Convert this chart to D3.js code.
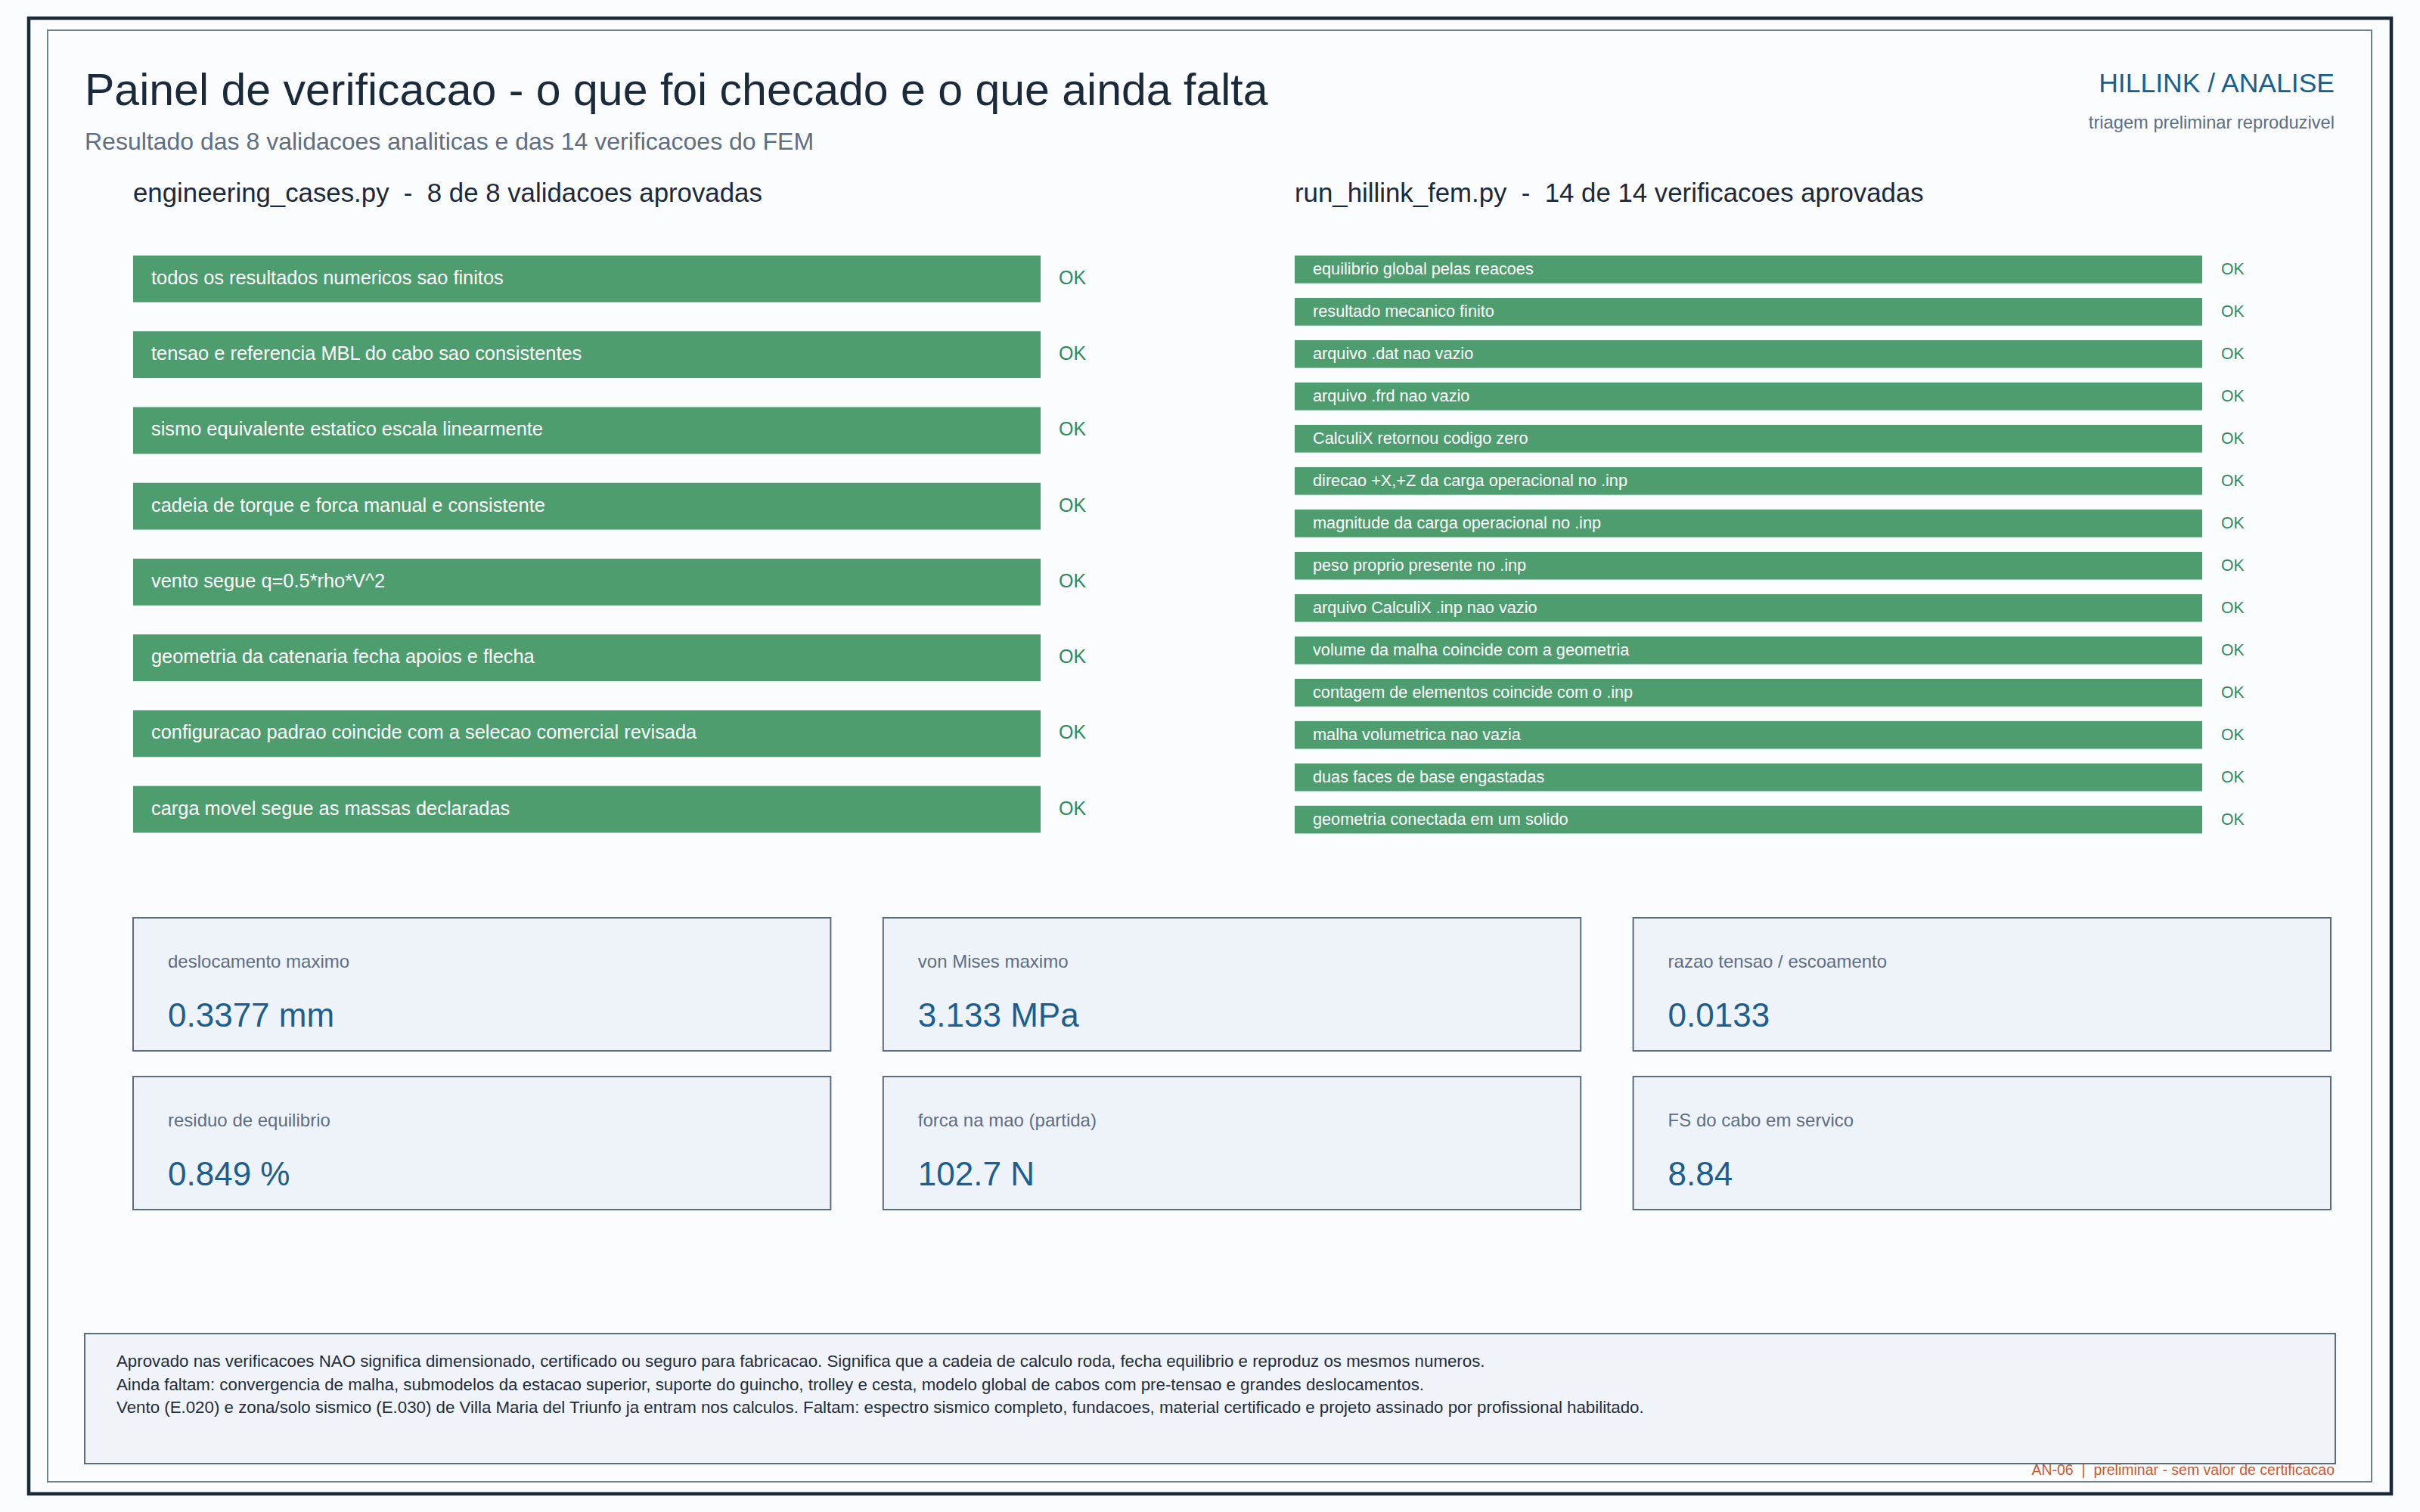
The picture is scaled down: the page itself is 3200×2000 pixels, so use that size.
<!DOCTYPE html>
<html>
<head>
<meta charset="utf-8">
<script src="https://cdn.jsdelivr.net/npm/d3@7"></script>
<style>
  html, body { margin: 0; padding: 0; background: #fbfcfe; }
  svg { display: block; font-family: "Liberation Sans", Arial, Helvetica, sans-serif; }
  .pre { white-space: pre; }
</style>
</head>
<body>
<svg id="chart" width="3200" height="2000"></svg>
<script>
// ---------- data ----------
const titleText = "Painel de verificacao - o que foi checado e o que ainda falta";
const subtitleText = "Resultado das 8 validacoes analiticas e das 14 verificacoes do FEM";
const brandText = "HILLINK / ANALISE";
const brandSub = "triagem preliminar reproduzivel";

const leftHeader = "engineering_cases.py  -  8 de 8 validacoes aprovadas";
const leftChecks = [
  "todos os resultados numericos sao finitos",
  "tensao e referencia MBL do cabo sao consistentes",
  "sismo equivalente estatico escala linearmente",
  "cadeia de torque e forca manual e consistente",
  "vento segue q=0.5*rho*V^2",
  "geometria da catenaria fecha apoios e flecha",
  "configuracao padrao coincide com a selecao comercial revisada",
  "carga movel segue as massas declaradas"
];
const leftPassed = [1, 1, 1, 1, 1, 1, 1, 1];

const rightHeader = "run_hillink_fem.py  -  14 de 14 verificacoes aprovadas";
const rightChecks = [
  "equilibrio global pelas reacoes",
  "resultado mecanico finito",
  "arquivo .dat nao vazio",
  "arquivo .frd nao vazio",
  "CalculiX retornou codigo zero",
  "direcao +X,+Z da carga operacional no .inp",
  "magnitude da carga operacional no .inp",
  "peso proprio presente no .inp",
  "arquivo CalculiX .inp nao vazio",
  "volume da malha coincide com a geometria",
  "contagem de elementos coincide com o .inp",
  "malha volumetrica nao vazia",
  "duas faces de base engastadas",
  "geometria conectada em um solido"
];
const rightPassed = [1, 1, 1, 1, 1, 1, 1, 1, 1, 1, 1, 1, 1, 1];
const statusLabel = "OK";

const cardLabels = [
  "deslocamento maximo", "von Mises maximo", "razao tensao / escoamento",
  "residuo de equilibrio", "forca na mao (partida)", "FS do cabo em servico"
];
const cardValues = [0.3377, 3.133, 0.0133, 0.849, 102.7, 8.84];
const cardUnits = ["mm", "MPa", "", "%", "N", ""];

const footerLines = [
  "Aprovado nas verificacoes NAO significa dimensionado, certificado ou seguro para fabricacao. Significa que a cadeia de calculo roda, fecha equilibrio e reproduz os mesmos numeros.",
  "Ainda faltam: convergencia de malha, submodelos da estacao superior, suporte do guincho, trolley e cesta, modelo global de cabos com pre-tensao e grandes deslocamentos.",
  "Vento (E.020) e zona/solo sismico (E.030) de Villa Maria del Triunfo ja entram nos calculos. Faltam: espectro sismico completo, fundacoes, material certificado e projeto assinado por profissional habilitado."
];
const footNote = "AN-06  |  preliminar - sem valor de certificacao";

// ---------- drawing ----------
const svg = d3.select("#chart");
const C = {
  ink: "#1b2a3b", slate: "#5e6e84", blue: "#1a5f8f", green: "#4e9d6f",
  okGreen: "#2e8b57", frame: "#1b2a3a", inner: "#6f8090", cardFill: "#eef3f9",
  cardStroke: "#5b6b80", footFill: "#f0f3f7", orange: "#c95a30"
};

svg.append("rect").attr("width", 3200).attr("height", 2000).attr("fill", "#fbfcfe");
svg.append("rect").attr("x", 38).attr("y", 24).attr("width", 3124).attr("height", 1952)
  .attr("fill", "none").attr("stroke", C.frame).attr("stroke-width", 4.5);
svg.append("rect").attr("x", 63).attr("y", 40).attr("width", 3073).attr("height", 1920)
  .attr("fill", "none").attr("stroke", C.inner).attr("stroke-width", 2);

// titles
svg.append("text").attr("x", 112).attr("y", 139).attr("font-size", 59).attr("fill", C.ink).text(titleText);
svg.append("text").attr("x", 112).attr("y", 198).attr("font-size", 32).attr("fill", C.slate).text(subtitleText);
svg.append("text").attr("x", 3087).attr("y", 122).attr("font-size", 35.5).attr("fill", C.blue)
  .attr("text-anchor", "end").text(brandText);
svg.append("text").attr("x", 3087).attr("y", 170).attr("font-size", 23.7).attr("fill", C.slate)
  .attr("text-anchor", "end").text(brandSub);

function checkPanel(opts) {
  const g = svg.append("g");
  const idx = d3.range(opts.checks.length);
  const x = d3.scaleLinear().domain([0, 1]).range([opts.x0, opts.x1]);
  const y = d3.scaleBand().domain(idx).range([opts.y0, opts.y1]).paddingInner(opts.pad).paddingOuter(0);

  g.append("text").attr("class", "pre").attr("x", opts.x0).attr("y", 267)
    .attr("font-size", 34.8).attr("fill", C.ink).text(opts.header);

  const rows = g.selectAll("g.row").data(idx).join("g").attr("class", "row");
  rows.append("rect")
    .attr("x", x(0)).attr("y", i => y(i))
    .attr("width", i => x(opts.passed[i]) - x(0)).attr("height", y.bandwidth())
    .attr("fill", C.green);
  rows.append("text")
    .attr("x", x(0) + opts.textPad).attr("y", i => y(i) + y.bandwidth() / 2 + opts.base)
    .attr("font-size", opts.fs).attr("fill", "#ffffff").text(i => opts.checks[i]);
  rows.append("text")
    .attr("x", x(1) + opts.okPad).attr("y", i => y(i) + y.bandwidth() / 2 + opts.base)
    .attr("font-size", opts.okFs).attr("fill", C.okGreen).text(i => opts.passed[i] ? statusLabel : "");
}

checkPanel({ checks: leftChecks, passed: leftPassed, header: leftHeader,
  x0: 176, x1: 1376, y0: 338, y1: 1101.5, pad: 0.383, fs: 25.4, okFs: 25, base: 7, textPad: 24, okPad: 24 });
checkPanel({ checks: rightChecks, passed: rightPassed, header: rightHeader,
  x0: 1712, x1: 2912, y0: 338, y1: 1102.5, pad: 0.345, fs: 21.7, okFs: 21.2, base: 6.5, textPad: 24, okPad: 25 });

// metric cards
const colX = d3.scaleBand().domain([0, 1, 2]).range([176, 3082]).paddingInner(0.07).paddingOuter(0);
const rowY = d3.scaleBand().domain([0, 1]).range([1214, 1600]).paddingInner(0.162).paddingOuter(0);
const cards = svg.selectAll("g.card").data(d3.range(cardValues.length)).join("g").attr("class", "card")
  .attr("transform", i => `translate(${colX(i % 3)},${rowY(Math.floor(i / 3))})`);
cards.append("rect").attr("width", colX.bandwidth()).attr("height", rowY.bandwidth())
  .attr("fill", C.cardFill).attr("stroke", C.cardStroke).attr("stroke-width", 2);
cards.append("text").attr("x", 46).attr("y", 65.5).attr("font-size", 24).attr("fill", C.slate)
  .text(i => cardLabels[i]);
cards.append("text").attr("x", 46).attr("y", 143.5).attr("font-size", 44).attr("fill", C.blue)
  .text(i => String(cardValues[i]) + (cardUnits[i] ? " " + cardUnits[i] : ""));

// footer
svg.append("rect").attr("x", 112).attr("y", 1764).attr("width", 2976).attr("height", 172)
  .attr("fill", C.footFill).attr("stroke", C.cardStroke).attr("stroke-width", 2);
svg.selectAll("text.foot").data(footerLines).join("text").attr("class", "foot")
  .attr("x", 154).attr("y", (d, i) => 1808 + i * 30.6)
  .attr("font-size", 22.3).attr("fill", "#1f2d3d").text(d => d);
svg.append("text").attr("class", "pre").attr("x", 3087).attr("y", 1951).attr("font-size", 19.5).attr("fill", C.orange)
  .attr("text-anchor", "end").text(footNote);
</script>
</body>
</html>
